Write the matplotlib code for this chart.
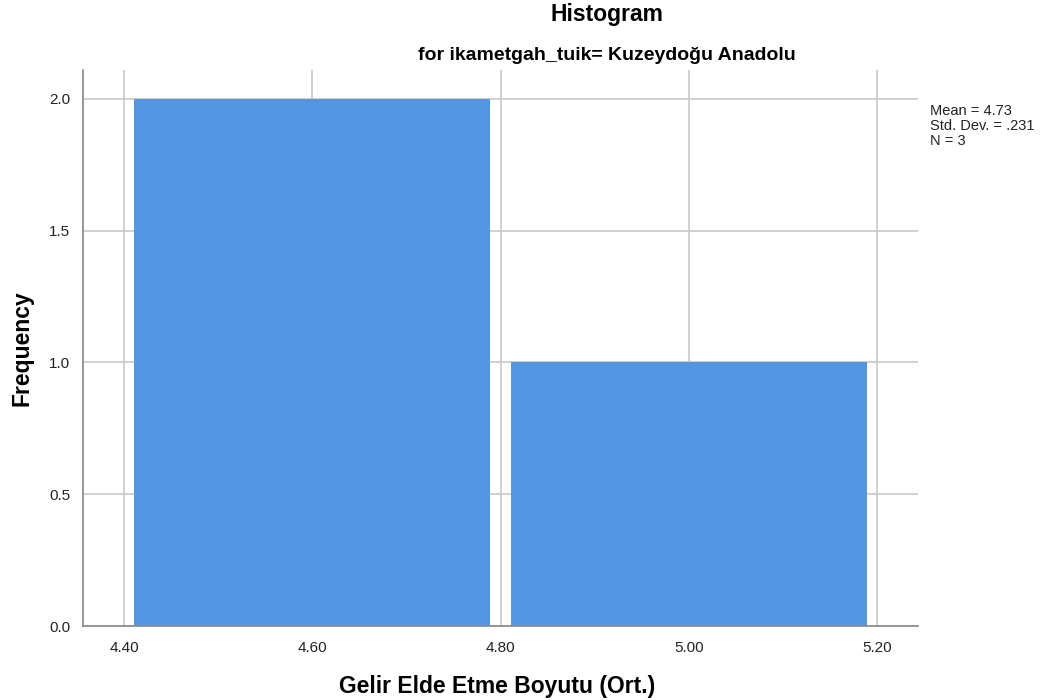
import matplotlib.pyplot as plt
import numpy as np

plt.rcParams['font.family'] = ['Liberation Sans', 'DejaVu Sans']

# histogram data
bin_edges = [4.40, 4.80, 5.20]
counts = [2, 1]
xticks = [4.40, 4.60, 4.80, 5.00, 5.20]
yticks = [0.0, 0.5, 1.0, 1.5, 2.0]
stats = ["Mean = 4.73", "Std. Dev. = .231", "N = 3"]

fig = plt.figure(figsize=(10.54, 7), dpi=100)
ax = fig.add_axes([83/1054, 1 - 626/700, (918-83)/1054, (626-70)/700])

lefts = np.array(bin_edges[:-1])
widths = np.diff(bin_edges)
gap = 0.011
ax.bar(lefts + gap, counts, width=widths - 2*gap, align='edge',
       color='#5596e3', edgecolor='none', zorder=2)

ax.set_xlim(4.3565, 5.2435)
ax.set_ylim(0, 2.11)
ax.set_xticks(xticks)
ax.set_xticklabels(["%.2f" % v for v in xticks])
ax.set_yticks(yticks)
ax.set_yticklabels(["%.1f" % v for v in yticks])
ax.tick_params(length=0, labelsize=11, colors='#222222')
ax.tick_params(axis='x', pad=11)
ax.tick_params(axis='y', pad=9)
ax.grid(True, color='#c8c8c8', linewidth=1.2, zorder=0)
ax.set_axisbelow(True)

for s in ['top', 'right']:
    ax.spines[s].set_visible(False)
for s in ['left', 'bottom']:
    ax.spines[s].set_color('#888888')
    ax.spines[s].set_linewidth(1.2)

fig.text(497/1054, 1 - 686/700, "Gelir Elde Etme Boyutu (Ort.)", ha='center', va='center',
         fontsize=16.5, fontweight='bold')
fig.text(22/1054, 1 - 348/700, "Frequency", ha='center', va='center', rotation=90,
         fontsize=16.5, fontweight='bold')

fig.text(607/1054, 1 - 15/700, "Histogram", ha='center', va='center',
         fontsize=16.5, fontweight='bold')
fig.text(607/1054, 1 - 56/700, "for ikametgah_tuik= Kuzeydoğu Anadolu",
         ha='center', va='center', fontsize=14, fontweight='bold')

fig.text(930/1054, 1 - 104/700, "\n".join(stats), ha='left', va='top',
         fontsize=10.5, linespacing=1.1, color='#222222')

fig.savefig("out.png", dpi=100)
